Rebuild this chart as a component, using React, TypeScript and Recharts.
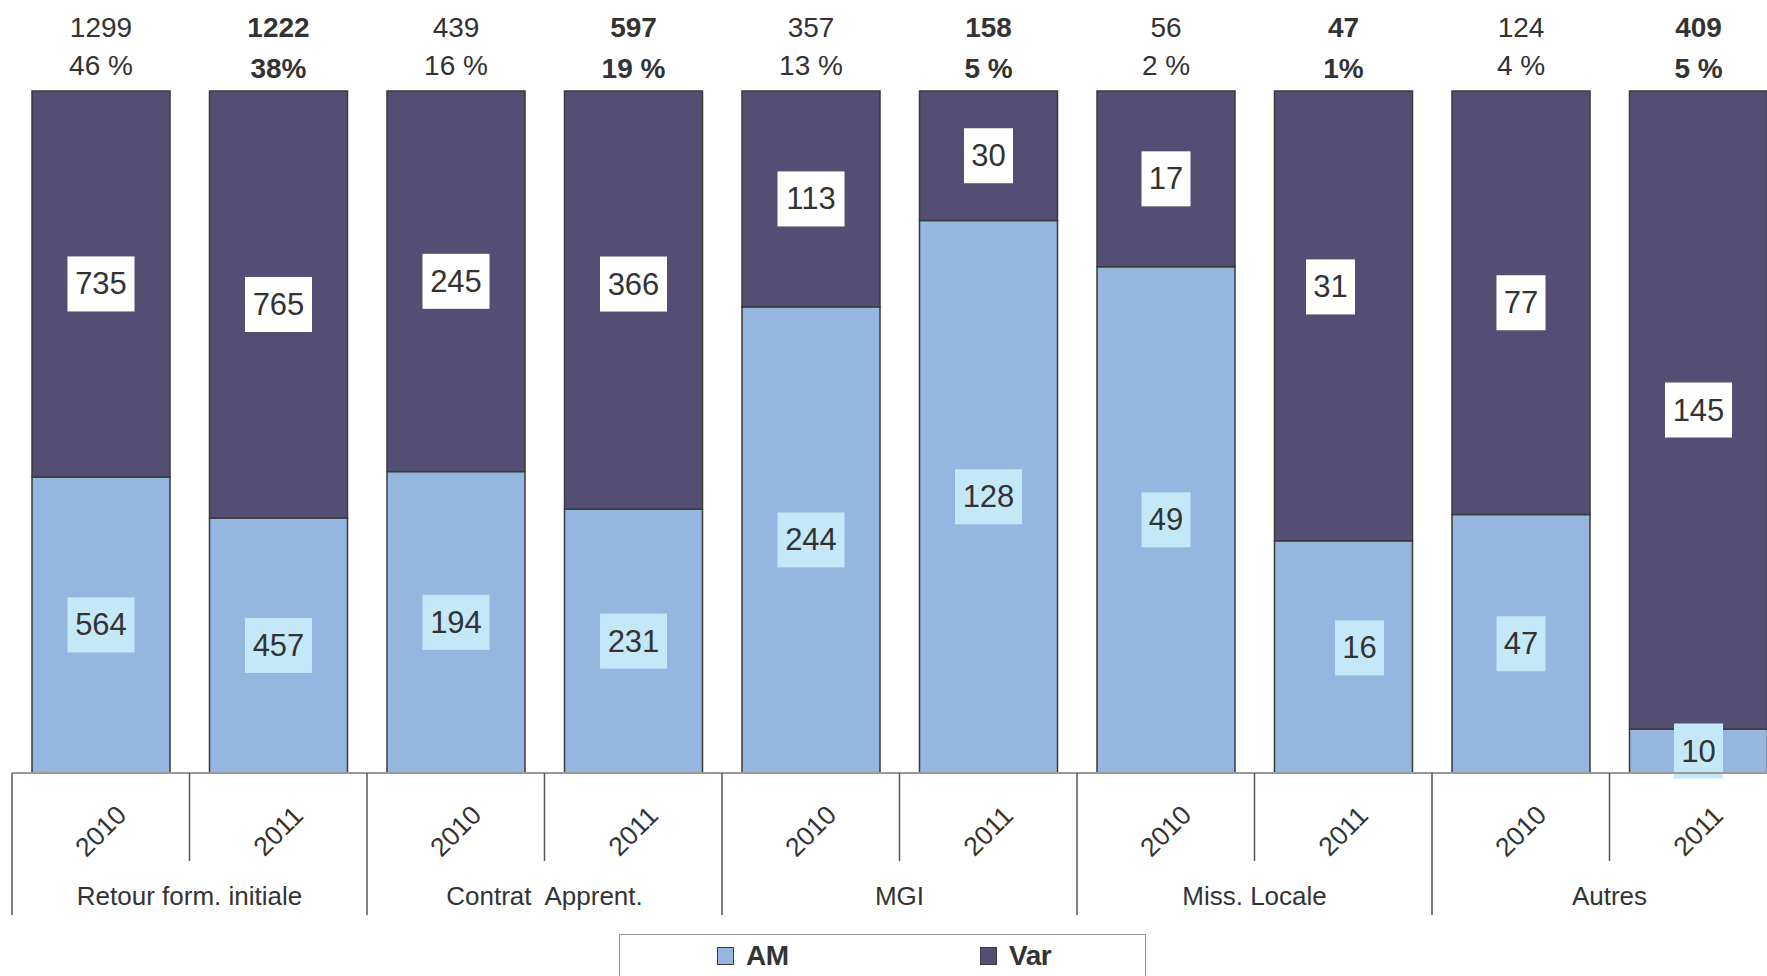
import React from 'react';
import { BarChart, Bar, XAxis, YAxis, Legend } from 'recharts';

// ---- data ----
const groups = ['Retour form. initiale', 'Contrat  Apprent.', 'MGI', 'Miss. Locale', 'Autres'];
const years = ['2010', '2011'];
const amValues = [564, 457, 194, 231, 244, 128, 49, 16, 47, 10];
const varValues = [735, 765, 245, 366, 113, 30, 17, 31, 77, 145];
const totalLabels = ['1299', '1222', '439', '597', '357', '158', '56', '47', '124', '409'];
const shareLabels = ['46 %', '38%', '16 %', '19 %', '13 %', '5 %', '2 %', '1%', '4 %', '5 %'];

const data = amValues.map((am, i) => ({
  key: `${groups[Math.floor(i / 2)]}-${years[i % 2]}`,
  group: groups[Math.floor(i / 2)],
  year: years[i % 2],
  AM: am,
  Var: varValues[i],
  total: totalLabels[i],
  share: shareLabels[i],
  bold: i % 2 === 1,
}));

// ---- style / layout ----
const FONT = '"Liberation Sans", Arial, Helvetica, sans-serif';
const TEXT = '#333333';
const AM_COLOR = '#95B6DF';
const VAR_COLOR = '#544E75';
const AM_LABEL_BG = '#C5E8F8';
const EDGE = '#3a3a3a';

const CHART_W = 1787;
const CHART_H = 976;
const MARGIN = { top: 91, right: 0, left: 12, bottom: 0 };
const X_AXIS_H = 203;
const AXIS_Y = CHART_H - MARGIN.bottom - X_AXIS_H;
const BAND = (CHART_W - MARGIN.left - MARGIN.right) / data.length;

// small manual nudges of a few value boxes, as in the original
const LABEL_NUDGES: Record<string, { dx: number; dy: number }> = {
  'Contrat  Apprent.-2011-Var': { dx: 0, dy: -16 },
  'Miss. Locale-2011-Var': { dx: -13, dy: -29 },
  'Miss. Locale-2011-AM': { dx: 16, dy: -9 },
};

const ValueBox = ({ cx, cy, value, bg }: { cx: number; cy: number; value: number; bg: string }) => {
  const s = String(value);
  const w = 18 * s.length + 13;
  const h = 55;
  return (
    <g>
      <rect x={cx - w / 2} y={cy - h / 2} width={w} height={h} fill={bg} />
      <text
        x={cx}
        y={cy}
        textAnchor="middle"
        dominantBaseline="central"
        fontFamily={FONT}
        fontSize={31}
        fill={TEXT}
      >
        {s}
      </text>
    </g>
  );
};

const VarShape = (props: any) => {
  const { x, y, width, height, payload } = props;
  const cx = x + width / 2;
  const amTop = y + height;
  const bg = props.background;
  const amBottom = bg && typeof bg.y === 'number' ? bg.y + bg.height : AXIS_Y;
  const nv = LABEL_NUDGES[`${payload.key}-Var`] || { dx: 0, dy: 0 };
  const na = LABEL_NUDGES[`${payload.key}-AM`] || { dx: 0, dy: 0 };
  const weight = payload.bold ? 700 : 400;
  return (
    <g>
      <rect x={x} y={y} width={width} height={height} fill={VAR_COLOR} stroke={EDGE} strokeWidth={1.5} />
      <ValueBox cx={cx + nv.dx} cy={(y + amTop) / 2 + nv.dy} value={payload.Var} bg="#ffffff" />
      <ValueBox cx={cx + na.dx} cy={(amTop + amBottom) / 2 + na.dy} value={payload.AM} bg={AM_LABEL_BG} />
      <text
        x={cx}
        y={y - 64}
        textAnchor="middle"
        dominantBaseline="central"
        fontFamily={FONT}
        fontSize={28}
        fontWeight={weight}
        fill={TEXT}
      >
        {payload.total}
      </text>
      <text
        x={cx}
        y={y - (payload.bold ? 23 : 26)}
        textAnchor="middle"
        dominantBaseline="central"
        fontFamily={FONT}
        fontSize={28}
        fontWeight={weight}
        fill={TEXT}
      >
        {payload.share}
      </text>
    </g>
  );
};

const AxisTick = (props: any) => {
  const { x, payload } = props;
  const d = data.find((e) => e.key === payload.value);
  if (!d) return null;
  const idx = data.indexOf(d);
  const left = x - BAND / 2;
  const groupStart = idx % 2 === 0;
  const yearY = AXIS_Y + 58;
  return (
    <g>
      <line
        x1={left}
        x2={left}
        y1={AXIS_Y}
        y2={AXIS_Y + (groupStart ? 142 : 88)}
        stroke="#555555"
        strokeWidth={1.5}
      />
      <text
        x={x}
        y={yearY}
        transform={`rotate(-45 ${x} ${yearY})`}
        textAnchor="middle"
        dominantBaseline="central"
        fontFamily={FONT}
        fontSize={26.5}
        fill={TEXT}
      >
        {d.year}
      </text>
      {!groupStart && (
        <text
          x={left}
          y={AXIS_Y + 123}
          textAnchor="middle"
          dominantBaseline="central"
          fontFamily={FONT}
          fontSize={26}
          fill={TEXT}
          style={{ whiteSpace: 'pre' }}
        >
          {d.group}
        </text>
      )}
    </g>
  );
};

const LegendContent = (props: any) => {
  const items = props.payload || [];
  const pos = [
    { sq: 97, tx: 126 },
    { sq: 360, tx: 389 },
  ];
  return (
    <div
      style={{
        position: 'relative',
        width: 527,
        height: 70,
        border: '1.5px solid #999999',
        boxSizing: 'border-box',
        background: '#ffffff',
        fontFamily: FONT,
      }}
    >
      {items.map((it: any, i: number) => (
        <React.Fragment key={it.value}>
          <div
            style={{
              position: 'absolute',
              left: pos[i].sq,
              top: 12,
              width: 17,
              height: 18,
              background: it.color,
              border: `1.5px solid ${EDGE}`,
              boxSizing: 'border-box',
            }}
          />
          <div
            style={{
              position: 'absolute',
              left: pos[i].tx,
              top: 5,
              fontSize: 28,
              fontWeight: 700,
              lineHeight: '32px',
              color: TEXT,
              letterSpacing: -0.5,
            }}
          >
            {it.value}
          </div>
        </React.Fragment>
      ))}
    </div>
  );
};

export default function App() {
  return (
    <div
      style={{
        position: 'absolute',
        left: 0,
        top: 0,
        width: 1767,
        height: 976,
        overflow: 'hidden',
        background: '#ffffff',
      }}
    >
      <BarChart
        width={CHART_W}
        height={CHART_H}
        data={data}
        margin={MARGIN}
        stackOffset="expand"
        barCategoryGap={20}
      >
        <XAxis
          dataKey="key"
          height={X_AXIS_H}
          interval={0}
          tickLine={false}
          tickSize={0}
          tickMargin={0}
          axisLine={{ stroke: '#999999', strokeWidth: 2 }}
          tick={<AxisTick />}
        />
        <YAxis hide domain={[0, 1]} />
        <Legend
          verticalAlign="middle"
          align="center"
          wrapperStyle={{ left: 619, top: 934, width: 527, height: 70 }}
          content={<LegendContent />}
        />
        <Bar
          dataKey="AM"
          name="AM"
          stackId="s"
          fill={AM_COLOR}
          stroke={EDGE}
          strokeWidth={1.5}
          isAnimationActive={false}
        />
        <Bar
          dataKey="Var"
          name="Var"
          stackId="s"
          fill={VAR_COLOR}
          stroke={EDGE}
          strokeWidth={1.5}
          isAnimationActive={false}
          shape={<VarShape />}
        />
      </BarChart>
    </div>
  );
}
